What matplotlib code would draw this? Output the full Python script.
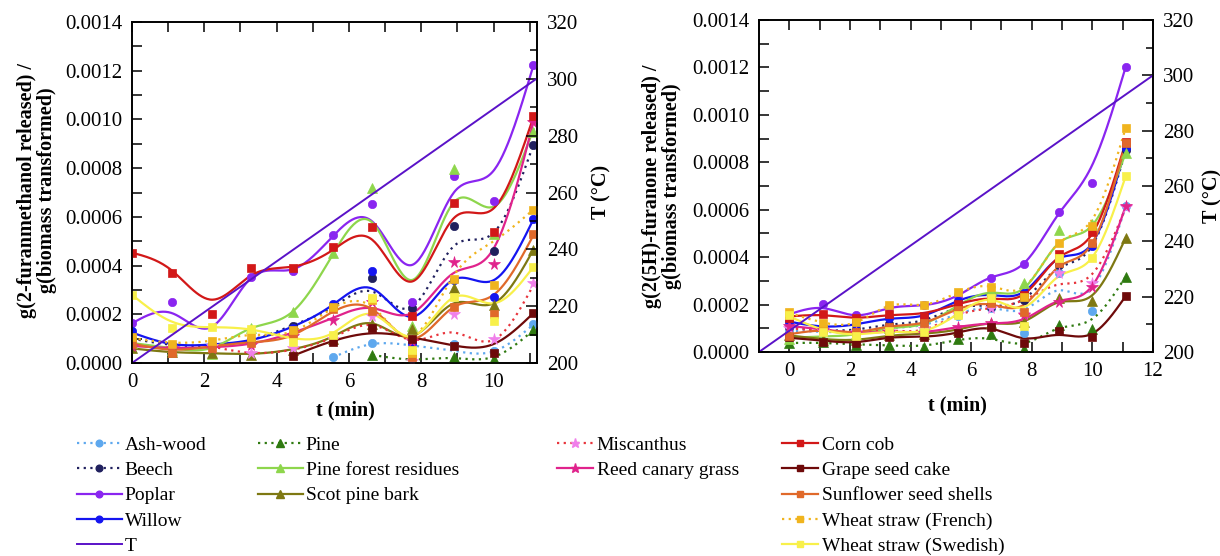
import numpy as np
import matplotlib
matplotlib.use("Agg")
import matplotlib.pyplot as plt
from matplotlib.lines import Line2D
from matplotlib.ticker import MultipleLocator, FormatStrFormatter

plt.rcParams['font.family'] = ['Liberation Serif', 'DejaVu Serif']

nan = np.nan
# time (min) of the samples
t = [0, 1.1, 2.2, 3.3, 4.45, 5.55, 6.65, 7.75, 8.9, 10.0, 11.1]
# temperature ramp (T line), per panel
T_t_left = [0, 11.18]
T_t_right = [-1, 12]
T_vals = [200, 300]
SCALE = 1e-4  # values below are in units of 1e-4 g/g

# ---------- left panel: 2-furanmethanol (points and fitted curve values) ----------
ash_pts_L = [nan, nan, nan, nan, nan, 0.23, 0.82, 0.72, 0.80, 0.50, 1.60]
ash_fit_L = [nan, nan, nan, nan, nan, 0.23, 0.78, 0.72, 0.50, 0.48, 1.58]
beech_pts_L = [1.00, 0.72, 0.72, 0.95, 1.50, 2.30, 3.48, 2.25, 5.63, 4.58, 8.97]
beech_fit_L = [1.00, 0.75, 0.72, 0.95, 1.55, 2.30, 2.93, 2.31, 4.80, 5.35, 8.97]
poplar_pts_L = [1.63, 2.49, 0.78, 3.52, 3.78, 5.26, 6.52, 2.52, 7.69, 6.65, 12.22]
poplar_fit_L = [1.63, 2.05, 1.48, 3.50, 3.85, 5.20, 5.80, 4.03, 7.00, 7.90, 12.22]
willow_pts_L = [1.30, 0.66, 0.75, 0.90, 1.45, 2.41, 3.76, 0.81, 3.40, 2.72, 5.90]
willow_fit_L = [1.25, 0.78, 0.76, 0.95, 1.50, 2.39, 3.05, 1.90, 3.43, 3.40, 5.90]
pine_pts_L = [nan, nan, nan, nan, nan, nan, 0.33, 0.12, 0.23, 0.15, 1.35]
pine_fit_L = [nan, nan, nan, nan, nan, nan, 0.33, 0.15, 0.20, 0.25, 1.35]
pfr_pts_L = [0.82, 0.55, 0.38, 1.45, 2.08, 4.50, 7.17, 1.50, 7.95, 5.30, 9.50]
pfr_fit_L = [0.82, 0.61, 0.62, 1.43, 2.12, 4.45, 5.76, 3.41, 6.60, 6.42, 9.60]
spb_pts_L = [0.60, 0.45, 0.40, 0.34, 0.55, 1.00, 1.60, 1.38, 3.07, 2.40, 4.65]
spb_fit_L = [0.60, 0.45, 0.40, 0.38, 0.57, 1.09, 1.62, 1.10, 2.45, 2.45, 4.65]
misc_pts_L = [nan, nan, 0.70, 0.42, 0.60, 1.00, 1.91, 0.08, 2.00, 1.00, 3.27]
misc_fit_L = [nan, nan, 0.68, 0.42, 0.55, 1.05, 1.55, 0.95, 1.25, 0.95, 3.20]
reed_pts_L = [0.70, 0.60, 0.60, 0.75, 1.10, 1.78, 2.50, 0.92, 4.16, 4.08, 9.90]
reed_fit_L = [0.70, 0.62, 0.65, 0.80, 1.25, 1.85, 2.25, 2.05, 3.70, 4.70, 9.90]
corn_pts_L = [4.53, 3.70, 2.01, 3.91, 3.90, 4.75, 5.60, 1.94, 6.56, 5.39, 10.14]
corn_fit_L = [4.53, 3.80, 2.60, 3.60, 3.96, 4.64, 5.05, 3.35, 5.95, 6.35, 10.10]
grape_pts_L = [nan, nan, nan, nan, 0.30, 0.88, 1.42, 1.00, 0.70, 0.43, 2.05]
grape_fit_L = [nan, nan, nan, nan, 0.30, 0.90, 1.22, 1.05, 0.72, 0.78, 2.05]
sun_pts_L = [0.80, 0.42, 0.60, 0.81, 1.15, 2.22, 2.12, 0.26, 2.31, 2.02, 5.30]
sun_fit_L = [0.80, 0.55, 0.68, 0.85, 1.15, 2.10, 2.20, 1.00, 2.30, 2.80, 5.25]
wsf_pts_L = [1.05, 0.78, 0.90, 1.08, 1.35, 2.31, 2.60, 0.40, 3.45, 3.20, 6.28]
wsf_fit_L = [1.02, 0.84, 0.92, 1.15, 1.30, 2.25, 2.30, 1.10, 3.60, 5.00, 6.30]
wss_pts_L = [2.80, 1.45, 1.47, 1.40, 0.88, 1.15, 2.66, 0.55, 2.70, 1.74, 3.95]
wss_fit_L = [2.80, 1.70, 1.47, 1.37, 1.02, 1.23, 2.00, 1.10, 2.70, 2.45, 3.95]

# ---------- right panel: 2(5H)-furanone ----------
ash_pts_R = [0.90, 0.80, 0.80, 1.00, 1.10, 1.53, 1.85, 0.79, 3.35, 1.74, 6.14]
ash_fit_R = [0.90, 0.85, 0.85, 1.00, 1.15, 1.60, 1.85, 1.80, 2.60, 2.70, 6.14]
beech_pts_R = [1.07, 0.90, 0.95, 1.20, 1.30, 1.90, 1.91, 2.20, 3.67, 4.51, 8.50]
beech_fit_R = [1.05, 0.92, 0.95, 1.15, 1.35, 1.85, 1.95, 2.25, 3.55, 4.50, 8.50]
poplar_pts_R = [1.59, 2.02, 1.55, 1.90, 1.98, 2.38, 3.14, 3.71, 5.89, 7.14, 12.03]
poplar_fit_R = [1.59, 1.85, 1.55, 1.85, 1.98, 2.38, 3.14, 3.75, 5.85, 7.90, 12.03]
willow_pts_R = [1.28, 1.06, 1.17, 1.42, 1.52, 2.15, 2.40, 2.50, 4.00, 4.45, 8.60]
willow_fit_R = [1.28, 1.08, 1.17, 1.40, 1.55, 2.15, 2.40, 2.55, 3.95, 4.60, 8.60]
pine_pts_R = [0.37, 0.42, 0.30, 0.28, 0.19, 0.55, 0.75, 0.12, 1.15, 0.95, 3.18]
pine_fit_R = [0.38, 0.38, 0.32, 0.28, 0.28, 0.50, 0.55, 0.38, 1.00, 1.40, 3.18]
pfr_pts_R = [0.55, 0.60, 0.75, 1.00, 1.15, 1.90, 2.60, 2.89, 5.15, 5.40, 8.40]
pfr_fit_R = [0.60, 0.65, 0.75, 1.00, 1.20, 1.95, 2.50, 2.70, 4.60, 5.35, 8.40]
spb_pts_R = [0.72, 0.50, 0.50, 0.70, 0.75, 0.93, 1.24, 1.28, 2.26, 2.15, 4.82]
spb_fit_R = [0.70, 0.55, 0.52, 0.68, 0.78, 0.95, 1.20, 1.30, 2.10, 2.40, 4.82]
misc_pts_R = [1.00, 0.90, 0.85, 0.90, 0.95, 1.60, 1.85, 1.60, 3.32, 2.90, 6.10]
misc_fit_R = [1.00, 0.90, 0.85, 0.90, 0.95, 1.55, 1.85, 2.20, 2.85, 3.30, 6.10]
reed_pts_R = [1.11, 0.92, 0.80, 0.85, 0.82, 1.07, 1.21, 1.56, 2.12, 2.76, 6.16]
reed_fit_R = [1.10, 0.95, 0.82, 0.85, 0.85, 1.05, 1.20, 1.40, 2.15, 2.80, 6.16]
corn_pts_R = [1.45, 1.60, 1.42, 1.59, 1.53, 2.01, 2.20, 2.40, 4.14, 5.08, 8.86]
corn_fit_R = [1.50, 1.55, 1.45, 1.55, 1.65, 2.01, 2.25, 2.45, 4.00, 5.00, 8.86]
grape_pts_R = [0.65, 0.44, 0.37, 0.65, 0.65, 0.80, 1.04, 0.39, 0.89, 0.65, 2.36]
grape_fit_R = [0.60, 0.48, 0.42, 0.60, 0.65, 0.82, 0.98, 0.58, 0.72, 0.78, 2.36]
sun_pts_R = [0.69, 0.97, 0.83, 1.07, 1.21, 1.77, 2.08, 1.70, 3.74, 4.61, 8.82]
sun_fit_R = [0.75, 0.90, 0.85, 1.07, 1.25, 1.80, 2.00, 2.00, 3.60, 4.60, 8.82]
wsf_pts_R = [1.70, 1.21, 1.27, 2.00, 2.00, 2.55, 2.76, 2.33, 4.59, 5.31, 9.46]
wsf_fit_R = [1.65, 1.25, 1.25, 1.95, 2.00, 2.50, 2.76, 2.75, 4.60, 5.60, 9.46]
wss_pts_R = [1.56, 0.85, 0.67, 0.88, 0.83, 1.56, 2.26, 1.10, 3.95, 3.95, 7.42]
wss_fit_R = [1.50, 0.95, 0.75, 0.85, 0.90, 1.60, 2.20, 1.90, 3.20, 4.00, 7.42]

names = ["Ash-wood", "Beech", "Poplar", "Willow", "Pine", "Pine forest residues",
         "Scot pine bark", "Miscanthus", "Reed canary grass", "Corn cob",
         "Grape seed cake", "Sunflower seed shells", "Wheat straw (French)",
         "Wheat straw (Swedish)"]

DOT = (0, (1, 2))
# name: (line colour, marker colour, linestyle, marker, marker size)
style = {
    "Ash-wood": ("#5EA8EE", "#5EA8EE", DOT, "o", 6),
    "Beech": ("#20205E", "#20205E", DOT, "o", 6),
    "Poplar": ("#8A25F0", "#8A25F0", "-", "o", 6),
    "Willow": ("#1515F0", "#1515F0", "-", "o", 6),
    "Pine": ("#2F7A10", "#2F7A10", DOT, "^", 6.5),
    "Pine forest residues": ("#8ED64C", "#8ED64C", "-", "^", 6.5),
    "Scot pine bark": ("#7E7812", "#7E7812", "-", "^", 6.5),
    "Miscanthus": ("#E8343C", "#F07FEA", DOT, "*", 8.5),
    "Reed canary grass": ("#E0238C", "#E0238C", "-", "*", 8.5),
    "Corn cob": ("#D21818", "#D21818", "-", "s", 5.5),
    "Grape seed cake": ("#6E0A0A", "#6E0A0A", "-", "s", 5.5),
    "Sunflower seed shells": ("#E0692A", "#E0692A", "-", "s", 5.5),
    "Wheat straw (French)": ("#F0B41E", "#F0B41E", DOT, "s", 5.5),
    "Wheat straw (Swedish)": ("#F8F04A", "#F8F04A", "-", "s", 5.5),
}
T_color = "#5A12C8"

data_L = {
    "Ash-wood": (ash_pts_L, ash_fit_L), "Beech": (beech_pts_L, beech_fit_L),
    "Poplar": (poplar_pts_L, poplar_fit_L), "Willow": (willow_pts_L, willow_fit_L),
    "Pine": (pine_pts_L, pine_fit_L), "Pine forest residues": (pfr_pts_L, pfr_fit_L),
    "Scot pine bark": (spb_pts_L, spb_fit_L), "Miscanthus": (misc_pts_L, misc_fit_L),
    "Reed canary grass": (reed_pts_L, reed_fit_L), "Corn cob": (corn_pts_L, corn_fit_L),
    "Grape seed cake": (grape_pts_L, grape_fit_L),
    "Sunflower seed shells": (sun_pts_L, sun_fit_L),
    "Wheat straw (French)": (wsf_pts_L, wsf_fit_L),
    "Wheat straw (Swedish)": (wss_pts_L, wss_fit_L),
}
data_R = {
    "Ash-wood": (ash_pts_R, ash_fit_R), "Beech": (beech_pts_R, beech_fit_R),
    "Poplar": (poplar_pts_R, poplar_fit_R), "Willow": (willow_pts_R, willow_fit_R),
    "Pine": (pine_pts_R, pine_fit_R), "Pine forest residues": (pfr_pts_R, pfr_fit_R),
    "Scot pine bark": (spb_pts_R, spb_fit_R), "Miscanthus": (misc_pts_R, misc_fit_R),
    "Reed canary grass": (reed_pts_R, reed_fit_R), "Corn cob": (corn_pts_R, corn_fit_R),
    "Grape seed cake": (grape_pts_R, grape_fit_R),
    "Sunflower seed shells": (sun_pts_R, sun_fit_R),
    "Wheat straw (French)": (wsf_pts_R, wsf_fit_R),
    "Wheat straw (Swedish)": (wss_pts_R, wss_fit_R),
}


def nat_spline(x, y, num=300):
    x = np.asarray(x, float)
    y = np.asarray(y, float)
    n = len(x)
    h = np.diff(x)
    A = np.zeros((n, n))
    r = np.zeros(n)
    A[0, 0] = A[-1, -1] = 1.0
    for i in range(1, n - 1):
        A[i, i - 1] = h[i - 1]
        A[i, i] = 2 * (h[i - 1] + h[i])
        A[i, i + 1] = h[i]
        r[i] = 6 * ((y[i + 1] - y[i]) / h[i] - (y[i] - y[i - 1]) / h[i - 1])
    M = np.linalg.solve(A, r)
    xs = np.linspace(x[0], x[-1], num)
    k = np.clip(np.searchsorted(x, xs) - 1, 0, n - 2)
    dx1 = x[k + 1] - xs
    dx0 = xs - x[k]
    hk = h[k]
    ys = (M[k] * dx1 ** 3 / (6 * hk) + M[k + 1] * dx0 ** 3 / (6 * hk)
          + (y[k] / hk - M[k] * hk / 6) * dx1 + (y[k + 1] / hk - M[k + 1] * hk / 6) * dx0)
    return xs, ys


fig = plt.figure(figsize=(12.2, 5.56), dpi=100)
axL = fig.add_axes([0.1082, 0.3471, 0.332, 0.6133])
axR = fig.add_axes([0.6221, 0.3669, 0.323, 0.5971])

tt = np.asarray(t, float)
for ax, data in ((axL, data_L), (axR, data_R)):
    for nm in names:
        lc, mc, ls, mk, ms = style[nm]
        pts, fit = data[nm]
        pts = np.asarray(pts, float)
        fit = np.asarray(fit, float)
        okf = ~np.isnan(fit)
        xs, ys = nat_spline(tt[okf], fit[okf])
        ax.plot(xs, ys * SCALE, color=lc, ls=ls, lw=1.6, zorder=2)
        okp = ~np.isnan(pts)
        ax.plot(tt[okp], pts[okp] * SCALE, ls="none", marker=mk, ms=ms,
                mfc=mc, mec=mc, mew=0.5, zorder=3)
    ax.set_ylim(0, 0.0014)
    ax.yaxis.set_major_locator(MultipleLocator(0.0002))
    ax.yaxis.set_minor_locator(MultipleLocator(0.0001))
    ax.yaxis.set_major_formatter(FormatStrFormatter('%.4f'))
    ax.xaxis.set_major_locator(MultipleLocator(2))
    ax.xaxis.set_minor_locator(MultipleLocator(1))
    ax.tick_params(which='both', direction='in', top=True, right=False,
                   length=7, width=1.1, labelsize=15)
    ax.tick_params(axis='x', pad=7)
    ax.tick_params(axis='y', pad=7)
    for s in ax.spines.values():
        s.set_linewidth(1.2)

axL.set_xlim(0, 11.2)
axR.set_xlim(-1, 12)

for ax, Tt in ((axL, T_t_left), (axR, T_t_right)):
    axT = ax.twinx()
    axT.plot(Tt, T_vals, color=T_color, lw=1.4)
    axT.set_ylim(200, 320)
    axT.yaxis.set_major_locator(MultipleLocator(20))
    axT.yaxis.set_minor_locator(MultipleLocator(10))
    axT.tick_params(which='major', direction='in', length=8, width=1.1, labelsize=15, pad=7)
    axT.tick_params(which='minor', direction='in', length=5, width=1.1)
    for s in axT.spines.values():
        s.set_linewidth(1.2)

lab = dict(fontsize=14.5, fontweight='bold', ha='center', va='center')
fig.text(37 / 1220, 1 - 190 / 556, "g(2-furanmethanol released) /\ng(biomass transformed)",
         rotation=90, multialignment='center', linespacing=1.05, **lab)
fig.text(662 / 1220, 1 - 186 / 556, "g(2(5H)-furanone released) /\ng(biomass transformed)",
         rotation=90, multialignment='center', linespacing=1.05, **lab)
fig.text(345 / 1220, 1 - 410 / 556, "t (min)", **lab)
fig.text(957 / 1220, 1 - 405 / 556, "t (min)", **lab)
fig.text(601 / 1220, 1 - 192 / 556, "T (°C)", rotation=90, **lab)
fig.text(1212 / 1220, 1 - 196 / 556, "T (°C)", rotation=90, **lab)


def handle(nm):
    lc, mc, ls, mk, ms = style[nm]
    return Line2D([], [], color=lc, ls=ls, lw=1.6, marker=mk, ms=ms * 0.8,
                  mfc=mc, mec=mc)


cols = [
    (["Ash-wood", "Beech", "Poplar", "Willow", "T"], 77, 2.3, 0.15),
    (["Pine", "Pine forest residues", "Scot pine bark"], 258, 2.3, 0.15),
    (["Miscanthus", "Reed canary grass"], 557, 1.85, 0.2),
    (["Corn cob", "Grape seed cake", "Sunflower seed shells",
      "Wheat straw (French)", "Wheat straw (Swedish)"], 782, 1.85, 0.2),
]
for labels, x0, hl, tp in cols:
    hs = [Line2D([], [], color=T_color, lw=1.4) if l == "T" else handle(l) for l in labels]
    fig.legend(hs, labels, loc='upper left', bbox_to_anchor=(x0 / 1220, 1 - 436 / 556),
               frameon=False, fontsize=14, borderpad=0, borderaxespad=0,
               handlelength=hl, handletextpad=tp, labelspacing=0.4, numpoints=1)

fig.savefig("out.png", dpi=100)
